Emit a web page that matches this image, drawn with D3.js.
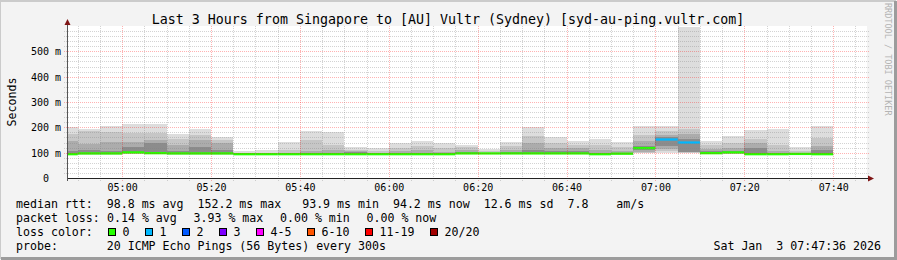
<!DOCTYPE html>
<html>
<head>
<meta charset="utf-8">
<script src="https://cdn.jsdelivr.net/npm/d3@7"></script>
<style>
  body { margin: 0; background: #f3f3f3; }
  text { font-family: "DejaVu Sans Mono", monospace; white-space: pre; }
</style>
</head>
<body>
<div id="chart"></div>
<script>
var svgWidth = 897;
var svgHeight = 260;

var margin = {top: 26, left: 67};
var width = 800;
var height = 152;

// 5 minute steps (end time of each step)
var stepEnds = ["04:50","04:55","05:00","05:05","05:10","05:15","05:20","05:25","05:30","05:35",
  "05:40","05:45","05:50","05:55","06:00","06:05","06:10","06:15","06:20","06:25",
  "06:30","06:35","06:40","06:45","06:50","06:55","07:00","07:05","07:10","07:15",
  "07:20","07:25","07:30","07:35","07:40"];

// smoke bands, ms (outer to inner)
var pingMax = [200,195,205,212,212,175,193,163,107,112,141,187,181,121,120,139,146,139,130,114,
  141,203,160,147,154,142,205,204,595,147,165,191,195,121,204];
var band2Hi = [175,185,180,179,179,155,170,150,100,100,110,150,131,112,105,120,125,118,121,105,
  125,166,140,130,131,121,171,185,195,130,138,154,130,105,158];
var band3Hi = [145,135,143,143,150,130,150,137,98,97,100,105,110,108,100,105,110,104,110,100,
  110,140,117,117,112,105,145,170,172,115,118,138,105,99,125];
var band4Hi = [108,110,107,124,140,105,122,110,97,96,97,99,100,103,97,98,100,99,103,98,
  102,110,108,108,100,100,125,160,155,105,108,118,100,97,112];
var medianRtt = [94,97,97,101,98,97,97,97,94,94,94,94,94,94,94,94,94,94,97,97,
  97,97,97,97,94,96,118,152,140,98,101,94,94,95,94];
var band4Lo = [93,96,96,100,97,96,96,96,93,93,93,93,93,93,93,93,93,93,96,96,
  96,96,96,96,93,95,110,128,104,97,100,93,93,94,93];
var band3Lo = [92,95,95,98,96,95,95,95,93,93,93,93,93,93,93,93,93,93,95,95,
  95,95,95,95,93,94,104,115,101,96,98,93,93,93,93];
var band2Lo = [91,94,94,96,95,94,94,94,92,92,92,92,92,92,92,92,92,92,94,94,
  94,94,94,94,92,93,100,105,99,95,96,92,92,92,92];
var pingMin = [90,92,92,94,93,92,92,92,92,92,92,92,92,92,92,92,92,92,93,93,
  93,93,93,93,92,92,97,97,98,94,94,92,92,92,92];
// lost pings out of 20 in each step
var lostPings = [0,0,0,0,0,0,0,0,0,0,0,0,0,0,0,0,0,0,0,0,
  0,0,0,0,0,0,0,1,1,0,0,0,0,0,0];

var lossLabels = ["0","1","2","3","4-5","6-10","11-19","20/20"];
var lossLimits = [0,1,2,3,5,10,19,20];
var lossColors = ["#26ff00","#00b8ff","#0059ff","#7e00ff","#ff00ff","#ff5500","#ff0000","#a10000"];

var yTicks = [0,100,200,300,400,500];
var rttLine = "median rtt:  98.8 ms avg  152.2 ms max   93.9 ms min  94.2 ms now  12.6 ms sd  7.8    am/s";
var lossParts = ["packet loss:", "0.14 % avg", "3.93 % max", "0.00 % min", "0.00 % now"];
var probeLine = "probe:       20 ICMP Echo Pings (56 Bytes) every 300s";
var titleText = "Last 3 Hours from Singapore to [AU] Vultr (Sydney) [syd-au-ping.vultr.com]";
var dateText = "Sat Jan  3 07:47:36 2026";

var parseHM = d3.timeParse("%Y-%m-%d %H:%M");
var startTime = new Date(2026, 0, 3, 4, 47, 36);
var endTime = new Date(2026, 0, 3, 7, 47, 36);

var steps = stepEnds.map(function(t, i) {
  var end = parseHM("2026-01-03 " + t);
  return {
    start: d3.timeMinute.offset(end, -5), end: end,
    bands: [[pingMin[i], pingMax[i]], [band2Lo[i], band2Hi[i]], [band3Lo[i], band3Hi[i]], [band4Lo[i], band4Hi[i]]],
    median: medianRtt[i], lost: lostPings[i]
  };
});

var svg = d3.select("#chart")
  .append("svg")
  .attr("width", svgWidth)
  .attr("height", svgHeight);

// frame
svg.append("rect").attr("width", svgWidth).attr("height", svgHeight).attr("fill", "#f3f3f3");
svg.append("path").attr("d", "M0,259 V1 H896").attr("stroke", "#cbcbcb").attr("stroke-width", 2).attr("fill", "none");
svg.append("path").attr("d", "M1,258.5 H895.5 V1").attr("stroke", "#9c9c9c").attr("stroke-width", 3).attr("fill", "none");

var xScale = d3.scaleTime().domain([startTime, endTime]).range([margin.left, margin.left + width]);
var yScale = d3.scaleLinear().domain([0, 600]).range([margin.top + height, margin.top]);

// canvas
svg.append("rect")
  .attr("x", margin.left).attr("y", margin.top)
  .attr("width", width).attr("height", height)
  .attr("fill", "#ffffff");

var plot = svg.append("g");
svg.append("clipPath").attr("id", "clip")
  .append("rect").attr("x", margin.left).attr("y", margin.top).attr("width", width).attr("height", height);
plot.attr("clip-path", "url(#clip)");

// smoke
var bandColors = ["#dddddd", "#c6c6c6", "#acacac", "#8c8c8c"];
steps.forEach(function(s) {
  s.bands.forEach(function(b, j) {
    plot.append("rect")
      .attr("x", xScale(s.start))
      .attr("width", xScale(s.end) - xScale(s.start))
      .attr("y", yScale(b[1]))
      .attr("height", yScale(b[0]) - yScale(b[1]))
      .attr("fill", bandColors[j])
      .attr("shape-rendering", "crispEdges");
  });
});

// grid on top of the smoke
var gridG = svg.append("g").attr("shape-rendering", "crispEdges");
var minorY = d3.range(20, 600, 20).filter(function(v) { return v % 100 != 0; });
var majorY = d3.range(100, 600, 100);
gridG.selectAll(".hminor").data(minorY).enter().append("line")
  .attr("x1", margin.left - 3).attr("x2", margin.left + width + 2)
  .attr("y1", d => Math.round(yScale(d)) + 0.5).attr("y2", d => Math.round(yScale(d)) + 0.5)
  .attr("stroke", "rgba(128,128,128,0.35)").attr("stroke-dasharray", "1,1");
gridG.selectAll(".hmajor").data(majorY).enter().append("line")
  .attr("x1", margin.left - 3).attr("x2", margin.left + width + 2)
  .attr("y1", d => Math.round(yScale(d)) + 0.5).attr("y2", d => Math.round(yScale(d)) + 0.5)
  .attr("stroke", "rgba(255,0,0,0.3)").attr("stroke-dasharray", "1,1");
var minorX = d3.timeMinute.every(5).range(startTime, endTime).filter(d => d.getMinutes() % 20 != 0);
var majorX = d3.timeMinute.every(20).range(startTime, endTime);
gridG.selectAll(".vminor").data(minorX).enter().append("line")
  .attr("x1", d => Math.round(xScale(d)) + 0.5).attr("x2", d => Math.round(xScale(d)) + 0.5)
  .attr("y1", margin.top).attr("y2", margin.top + height + 3)
  .attr("stroke", "rgba(128,128,128,0.35)").attr("stroke-dasharray", "1,1");
gridG.selectAll(".vmajor").data(majorX).enter().append("line")
  .attr("x1", d => Math.round(xScale(d)) + 0.5).attr("x2", d => Math.round(xScale(d)) + 0.5)
  .attr("y1", margin.top).attr("y2", margin.top + height + 3)
  .attr("stroke", "rgba(255,0,0,0.3)").attr("stroke-dasharray", "1,1");

// median, coloured by loss
function lossColor(n) {
  for (var i = 0; i < lossLimits.length; i++) if (n <= lossLimits[i]) return lossColors[i];
  return lossColors[lossColors.length - 1];
}
plot.selectAll(".median").data(steps).enter().append("rect")
  .attr("x", d => xScale(d.start))
  .attr("width", d => xScale(d.end) - xScale(d.start))
  .attr("y", d => yScale(d.median + 4.5))
  .attr("height", d => yScale(d.median - 4.5) - yScale(d.median + 4.5))
  .attr("fill", d => lossColor(d.lost));

// axes
var axisG = svg.append("g");
axisG.append("line").attr("x1", margin.left).attr("x2", margin.left + width + 2)
  .attr("y1", margin.top + height + 0.5).attr("y2", margin.top + height + 0.5)
  .attr("stroke", "#222");
axisG.append("line").attr("x1", margin.left + 0.5).attr("x2", margin.left + 0.5)
  .attr("y1", margin.top + height + 3).attr("y2", margin.top - 3)
  .attr("stroke", "#555");
axisG.append("path")
  .attr("d", `M${margin.left + width + 7},${margin.top + height + 0.5} l-6,-3 v6 z`)
  .attr("fill", "#7f1515");
axisG.append("path")
  .attr("d", `M${margin.left + 0.5},${margin.top - 7} l-3,6 h6 z`)
  .attr("fill", "#7f1515");

var bottomAxis = d3.axisBottom(xScale)
  .ticks(d3.timeMinute.every(20))
  .tickFormat(d3.timeFormat("%H:%M"))
  .tickSize(0).tickPadding(6);
var gx = svg.append("g")
  .attr("transform", `translate(0, ${margin.top + height})`)
  .call(bottomAxis);
gx.select(".domain").remove();
gx.selectAll("text").attr("font-family", "DejaVu Sans Mono").attr("font-size", "10px").attr("fill", "#000");

var leftAxis = d3.axisLeft(yScale)
  .tickValues(yTicks)
  .tickFormat(d => d === 0 ? "0  " : d + " m")
  .tickSize(0).tickPadding(6);
var gy = svg.append("g")
  .attr("transform", `translate(${margin.left}, 0)`)
  .call(leftAxis);
gy.select(".domain").remove();
gy.selectAll("text").attr("font-family", "DejaVu Sans Mono").attr("font-size", "10px")
  .attr("fill", "#000").attr("dy", "0.36em");

// title and axis label
svg.append("text")
  .attr("x", 448).attr("y", 23.5)
  .attr("text-anchor", "middle")
  .attr("font-size", "13.3px")
  .text(titleText);

svg.append("text")
  .attr("transform", `translate(16, ${margin.top + height / 2}) rotate(-90)`)
  .attr("text-anchor", "middle")
  .attr("font-size", "11.6px")
  .text("Seconds");

svg.append("text")
  .attr("transform", "translate(885, 3) rotate(90)")
  .attr("font-size", "8.5px")
  .attr("fill", "#b4b4b4")
  .text("RRDTOOL / TOBI OETIKER");

// legend
var legend = svg.append("g").attr("font-size", "11.6px");
legend.append("text").attr("x", 16).attr("y", 207.5).text(rttLine);

var px = 16;
lossParts.forEach(function(part, i) {
  legend.append("text").attr("x", px).attr("y", 221.5).text(part);
  px = i === 0 ? 107 : px + part.length * 7 + 16.5;
});

legend.append("text").attr("x", 16).attr("y", 235.5).text("loss color:");
var lx = 108;
lossLabels.forEach(function(lab, i) {
  legend.append("rect")
    .attr("x", lx + 0.5).attr("y", 228.5)
    .attr("width", 7).attr("height", 7)
    .attr("fill", lossColors[i]).attr("stroke", "#000");
  legend.append("text").attr("x", lx + 14.5).attr("y", 235.5).text(lab);
  lx += 14.5 + lab.length * 7 + 15.5;
});

legend.append("text").attr("x", 16).attr("y", 249.5).text(probeLine);
legend.append("text")
  .attr("x", 881).attr("y", 249.5)
  .attr("text-anchor", "end")
  .text(dateText);
</script>
</body>
</html>
